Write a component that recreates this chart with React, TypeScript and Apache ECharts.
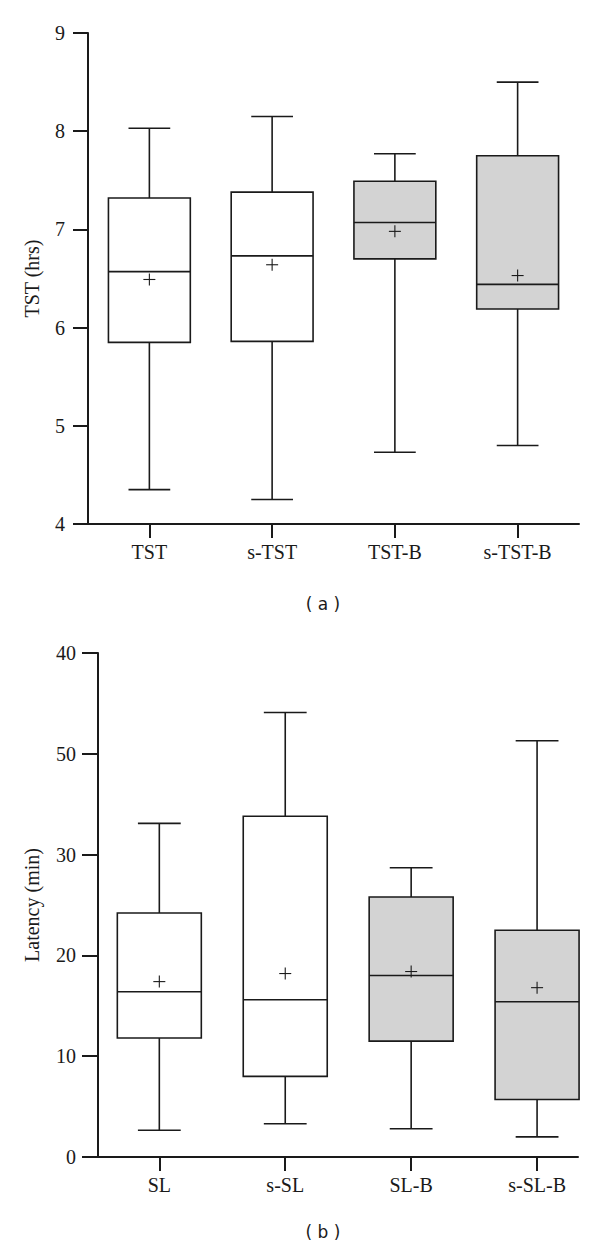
import React, { useEffect, useRef } from "react";
import * as echarts from "echarts";

// ---- Panel (a): total sleep time (hrs) ----
const tstCategories = ["TST", "s-TST", "TST-B", "s-TST-B"];
const tstWhiskerLow = [4.35, 4.25, 4.73, 4.8];
const tstQ1 = [5.85, 5.86, 6.7, 6.19];
const tstMedian = [6.57, 6.73, 7.07, 6.44];
const tstQ3 = [7.32, 7.38, 7.49, 7.75];
const tstWhiskerHigh = [8.03, 8.15, 7.77, 8.5];
const tstMean = [6.49, 6.64, 6.98, 6.53];

// ---- Panel (b): latency (min) ----
const slCategories = ["SL", "s-SL", "SL-B", "s-SL-B"];
const slWhiskerLow = [2.65, 3.3, 2.8, 2.0];
const slQ1 = [11.8, 8.0, 11.5, 5.7];
const slMedian = [16.4, 15.6, 18.0, 15.4];
const slQ3 = [24.2, 33.8, 25.8, 22.5];
const slWhiskerHigh = [33.1, 44.1, 28.7, 41.3];
const slMean = [17.4, 18.2, 18.4, 16.8];
// tick labels as printed in the reference
const slTickValues = [0, 10, 20, 30, 40, 50];
const slTickLabels = ["0", "10", "20", "30", "50", "40"];

const boxFills = ["#ffffff", "#ffffff", "#d3d3d3", "#d3d3d3"];
const INK = "#1a1a1a";
const SERIF = "Liberation Serif";

function buildData(lo: number[], q1: number[], med: number[], q3: number[], hi: number[], mean: number[]) {
  return lo.map((_, i) => [i, lo[i], q1[i], med[i], q3[i], hi[i], mean[i]]);
}

function renderBox(params: any, api: any) {
  const i = api.value(0);
  const pLo = api.coord([i, api.value(1)]);
  const pQ1 = api.coord([i, api.value(2)]);
  const pMed = api.coord([i, api.value(3)]);
  const pQ3 = api.coord([i, api.value(4)]);
  const pHi = api.coord([i, api.value(5)]);
  const pMean = api.coord([i, api.value(6)]);
  const bw = api.size([0.667, 0])[0];
  const cw = api.size([0.34, 0])[0];
  const x = pMed[0];
  const ls = { stroke: INK, lineWidth: 1.6, fill: null };
  const pm = 6;
  return {
    type: "group",
    children: [
      { type: "line", shape: { x1: x, y1: pQ3[1], x2: x, y2: pHi[1] }, style: ls },
      { type: "line", shape: { x1: x, y1: pQ1[1], x2: x, y2: pLo[1] }, style: ls },
      { type: "line", shape: { x1: x - cw / 2, y1: pHi[1], x2: x + cw / 2, y2: pHi[1] }, style: ls },
      { type: "line", shape: { x1: x - cw / 2, y1: pLo[1], x2: x + cw / 2, y2: pLo[1] }, style: ls },
      {
        type: "rect",
        shape: { x: x - bw / 2, y: pQ3[1], width: bw, height: pQ1[1] - pQ3[1] },
        style: { fill: boxFills[i], stroke: INK, lineWidth: 1.6 },
      },
      { type: "line", shape: { x1: x - bw / 2, y1: pMed[1], x2: x + bw / 2, y2: pMed[1] }, style: ls },
      { type: "line", shape: { x1: pMean[0] - pm, y1: pMean[1], x2: pMean[0] + pm, y2: pMean[1] }, style: { stroke: INK, lineWidth: 1.1 } },
      { type: "line", shape: { x1: pMean[0], y1: pMean[1] - pm, x2: pMean[0], y2: pMean[1] + pm }, style: { stroke: INK, lineWidth: 1.1 } },
    ],
  };
}

export default function App() {
  const ref = useRef<HTMLDivElement>(null);
  useEffect(() => {
    if (!ref.current) return;
    const chart = echarts.init(ref.current, undefined, { renderer: "svg" });
    const axisLine = { show: true, onZero: false, lineStyle: { color: INK, width: 2 } };
    const axisTick = { show: true, inside: false, lineStyle: { color: INK, width: 2 } };
    const labelStyle = { color: INK, fontFamily: SERIF, fontSize: 20 };
    chart.setOption({
      animation: false,
      backgroundColor: "#ffffff",
      textStyle: { fontFamily: SERIF },
      grid: [
        { left: 88, top: 33, width: 491, height: 491 },
        { left: 98, top: 653, width: 480, height: 504 },
      ],
      xAxis: [
        {
          gridIndex: 0,
          type: "value",
          min: -0.5,
          max: 3.5,
          axisLine,
          axisTick: { ...axisTick, length: 14, customValues: [0, 1, 2, 3] },
          axisLabel: {
            ...labelStyle,
            margin: 18,
            customValues: [0, 1, 2, 3],
            formatter: (v: number) => tstCategories[Math.round(v)] ?? "",
          },
          splitLine: { show: false },
        },
        {
          gridIndex: 1,
          type: "value",
          min: -0.487,
          max: 3.325,
          axisLine,
          axisTick: { ...axisTick, length: 14, customValues: [0, 1, 2, 3] },
          axisLabel: {
            ...labelStyle,
            margin: 18,
            customValues: [0, 1, 2, 3],
            formatter: (v: number) => slCategories[Math.round(v)] ?? "",
          },
          splitLine: { show: false },
        },
      ],
      yAxis: [
        {
          gridIndex: 0,
          type: "value",
          min: 4,
          max: 9,
          interval: 1,
          name: "TST (hrs)",
          nameLocation: "middle",
          nameGap: 46,
          nameTextStyle: { color: INK, fontFamily: SERIF, fontSize: 20 },
          axisLine,
          axisTick: { ...axisTick, length: 15 },
          axisLabel: { ...labelStyle, margin: 23 },
          splitLine: { show: false },
        },
        {
          gridIndex: 1,
          type: "value",
          min: 0,
          max: 50,
          interval: 10,
          name: "Latency (min)",
          nameLocation: "middle",
          nameGap: 56,
          nameTextStyle: { color: INK, fontFamily: SERIF, fontSize: 20 },
          axisLine,
          axisTick: { ...axisTick, length: 16 },
          axisLabel: {
            ...labelStyle,
            margin: 22,
            formatter: (v: number) => {
              const k = slTickValues.indexOf(v);
              return k >= 0 ? slTickLabels[k] : String(v);
            },
          },
          splitLine: { show: false },
        },
      ],
      series: [
        {
          type: "custom",
          xAxisIndex: 0,
          yAxisIndex: 0,
          renderItem: renderBox,
          encode: { x: 0, y: [1, 2, 3, 4, 5, 6] },
          data: buildData(tstWhiskerLow, tstQ1, tstMedian, tstQ3, tstWhiskerHigh, tstMean),
          clip: false,
        },
        {
          type: "custom",
          xAxisIndex: 1,
          yAxisIndex: 1,
          renderItem: renderBox,
          encode: { x: 0, y: [1, 2, 3, 4, 5, 6] },
          data: buildData(slWhiskerLow, slQ1, slMedian, slQ3, slWhiskerHigh, slMean),
          clip: false,
        },
      ],
      graphic: [
        {
          type: "text",
          x: 323,
          y: 604,
          style: {
            text: "( a )",
            fill: INK,
            fontFamily: "DejaVu Sans",
            fontSize: 17,
            textAlign: "center",
            textVerticalAlign: "middle",
          },
        },
        {
          type: "text",
          x: 323,
          y: 1232,
          style: {
            text: "( b )",
            fill: INK,
            fontFamily: "DejaVu Sans",
            fontSize: 17,
            textAlign: "center",
            textVerticalAlign: "middle",
          },
        },
      ],
    });
    return () => chart.dispose();
  }, []);
  return (
    <div
      ref={ref}
      style={{ position: "fixed", left: 0, top: 0, width: 600, height: 1252, background: "#fff" }}
    />
  );
}
